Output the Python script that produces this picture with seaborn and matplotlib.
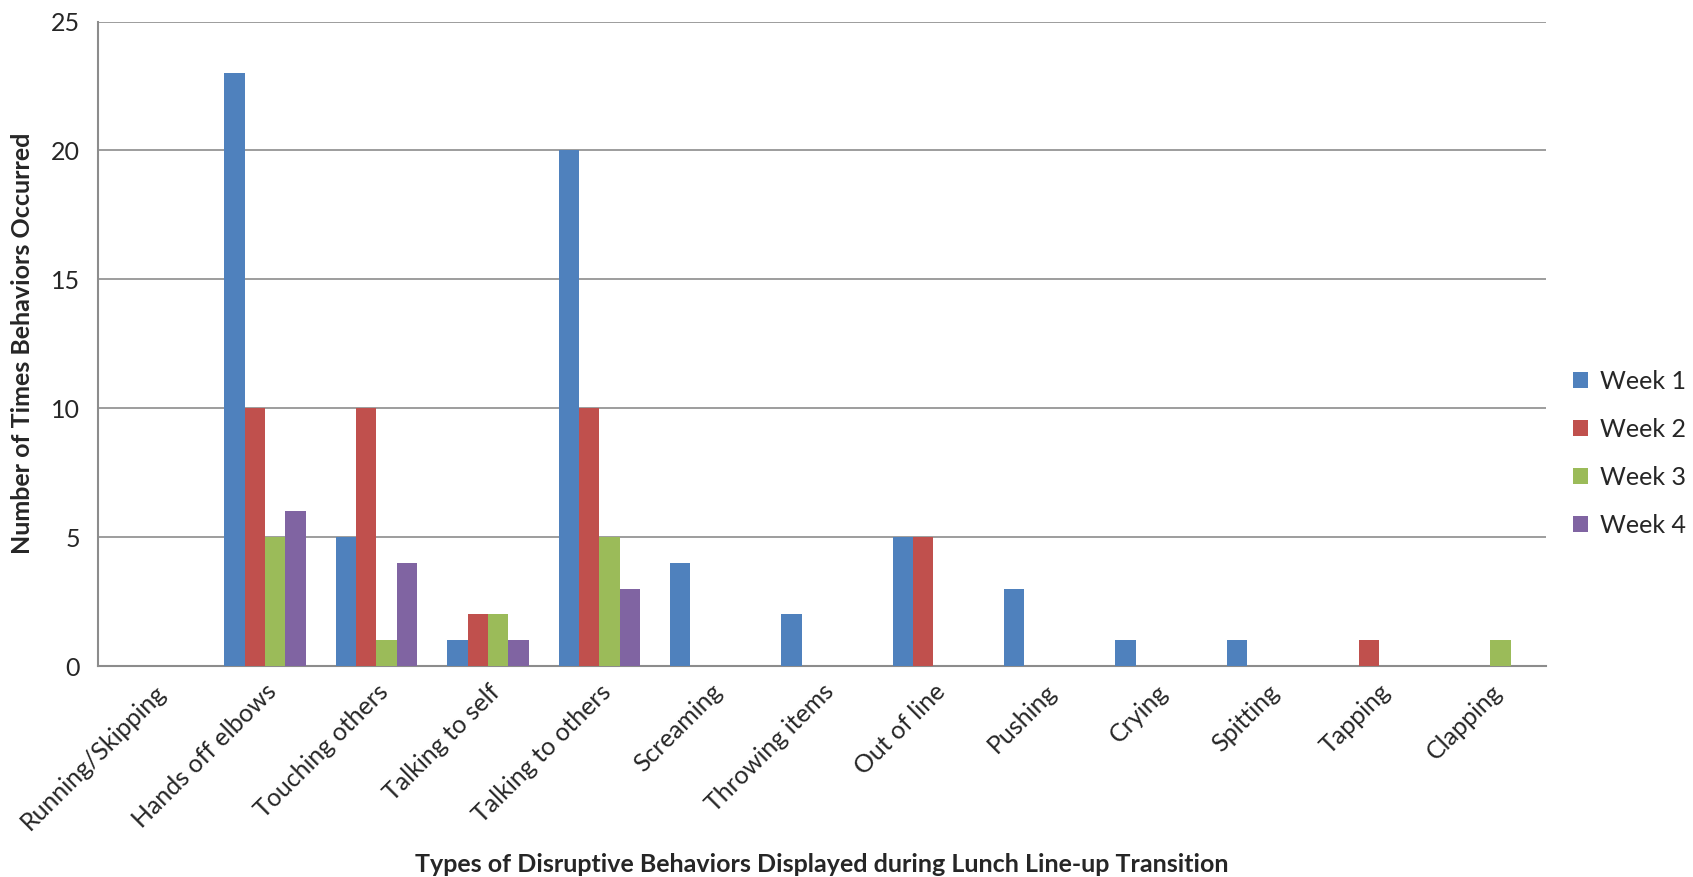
import matplotlib
matplotlib.use("Agg")
import matplotlib.pyplot as plt
import seaborn as sns
import pandas as pd
import numpy as np

categories = ["Running/Skipping", "Hands off elbows", "Touching others", "Talking to self",
              "Talking to others", "Screaming", "Throwing items", "Out of line", "Pushing",
              "Crying", "Spitting", "Tapping", "Clapping"]
weeks = ["Week 1", "Week 2", "Week 3", "Week 4"]
week1 = [0, 23, 5, 1, 20, 4, 2, 5, 3, 1, 1, 0, 0]
week2 = [0, 10, 10, 2, 10, 0, 0, 5, 0, 0, 0, 1, 0]
week3 = [0, 5, 1, 2, 5, 0, 0, 0, 0, 0, 0, 0, 1]
week4 = [0, 6, 4, 1, 3, 0, 0, 0, 0, 0, 0, 0, 0]
colors = ["#4F81BD", "#C0504D", "#9BBB59", "#8064A2"]

rows = []
for w, vals in zip(weeks, [week1, week2, week3, week4]):
    for c, v in zip(categories, vals):
        rows.append({"Behavior": c, "Week": w, "Count": v})
df = pd.DataFrame(rows)

sns.set_style("white")
plt.rcParams["font.family"] = ["Lato", "DejaVu Sans"]

fig = plt.figure(figsize=(16.93, 8.77), dpi=100)
ax = fig.add_axes([98 / 1693, 1 - 666 / 877, (1546 - 98) / 1693, (666 - 21.6) / 877])

sns.barplot(data=df, x="Behavior", y="Count", hue="Week", order=categories,
            hue_order=weeks, palette=colors, width=0.73, linewidth=0,
            saturation=1, errorbar=None, ax=ax, zorder=3)

grid_c = "#8C8C8C"
ax.set_ylim(0, 25)
ax.set_xlim(-0.5, len(categories) - 0.5)
ax.set_yticks([0, 5, 10, 15, 20, 25])
ax.yaxis.grid(True, color=grid_c, linewidth=1.2, zorder=0)
ax.set_axisbelow(True)
for s in ["top", "right"]:
    ax.spines[s].set_visible(False)
for s in ["left", "bottom"]:
    ax.spines[s].set_color(grid_c)
    ax.spines[s].set_linewidth(1.5)

ax.set_xticks(range(len(categories)))
ax.set_xticklabels(categories, rotation=45, ha="right", rotation_mode="anchor", fontsize=18)
ax.set_xticks(np.arange(-0.5, len(categories), 1.0), minor=True)
ax.tick_params(axis="x", which="major", length=0, pad=10)
ax.tick_params(axis="x", which="minor", length=7, color=grid_c, width=1.2, direction="out")
ax.tick_params(axis="y", which="major", length=7, color=grid_c, width=1.2, labelsize=18, pad=6)

ax.set_xlabel("Types of Disruptive Behaviors Displayed during Lunch Line-up Transition",
              fontsize=18, fontweight="bold")
ax.xaxis.label.set_va("center")
ax.xaxis.set_label_coords(0.5, -0.308)
ax.set_ylabel("Number of Times Behaviors Occurred", fontsize=18, fontweight="bold")
ax.yaxis.label.set_va("center")
ax.yaxis.set_label_coords(-0.052, 0.5)

ax.legend(loc="center left", bbox_to_anchor=(1.003, 0.33), frameon=False, fontsize=18,
          handlelength=0.6, handleheight=0.6, handletextpad=0.5, labelspacing=1.0)

fig.savefig("out.png", dpi=100, facecolor="white")
